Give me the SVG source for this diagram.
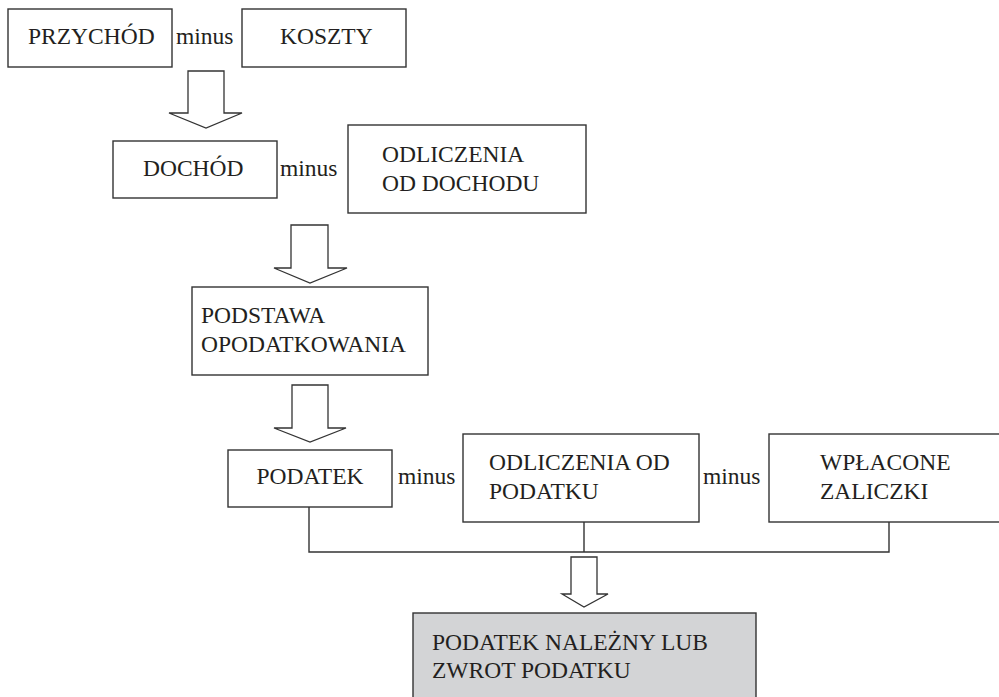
<svg xmlns="http://www.w3.org/2000/svg" width="999" height="697" viewBox="0 0 999 697">
  <style>
    .box { fill: #ffffff; stroke: #333333; stroke-width: 1.4; }
    .result { fill: #d3d4d6; stroke: #333333; stroke-width: 1.4; }
    .arrow { fill: #ffffff; stroke: #333333; stroke-width: 1.3; stroke-linejoin: miter; }
    .wire { fill: none; stroke: #333333; stroke-width: 1.4; }
    .mid { text-anchor: middle; }
  </style>
  <rect width="999" height="697" fill="#ffffff"/>

  <g font-family="Liberation Serif, Times New Roman, DejaVu Serif, serif" font-size="23.5" fill="#231f20">
    <!-- row 1 -->
    <g id="przychod">
      <rect class="box" x="8" y="9" width="164" height="58"/>
      <text x="28" y="44">PRZYCHÓD</text>
    </g>
    <text x="176" y="44">minus</text>
    <g id="koszty">
      <rect class="box" x="242" y="9" width="164" height="58"/>
      <text x="280" y="44">KOSZTY</text>
    </g>

    <!-- row 2 -->
    <g id="dochod">
      <rect class="box" x="113" y="141" width="164" height="57"/>
      <text x="143" y="176">DOCHÓD</text>
    </g>
    <text x="280" y="176">minus</text>
    <g id="odliczenia-od-dochodu">
      <rect class="box" x="348" y="125" width="238" height="88"/>
      <text x="382" y="162">ODLICZENIA</text>
      <text x="382" y="191">OD DOCHODU</text>
    </g>

    <!-- row 3 -->
    <g id="podstawa">
      <rect class="box" x="192" y="287" width="236" height="88"/>
      <text x="201" y="323">PODSTAWA</text>
      <text x="201" y="352">OPODATKOWANIA</text>
    </g>

    <!-- row 4 -->
    <g id="podatek">
      <rect class="box" x="228" y="450" width="164" height="57"/>
      <text class="mid" x="310" y="484">PODATEK</text>
    </g>
    <text x="398" y="484">minus</text>
    <g id="odliczenia-od-podatku">
      <rect class="box" x="463" y="434" width="236" height="88"/>
      <text x="489" y="470">ODLICZENIA OD</text>
      <text x="489" y="499">PODATKU</text>
    </g>
    <text x="703" y="484">minus</text>
    <g id="wplacone-zaliczki">
      <rect class="box" x="769" y="434" width="240" height="88"/>
      <text x="820" y="470">WPŁACONE</text>
      <text x="820" y="499">ZALICZKI</text>
    </g>

    <!-- result -->
    <g id="wynik">
      <rect class="result" x="413" y="613" width="343" height="100"/>
      <text x="432" y="650">PODATEK NALEŻNY LUB</text>
      <text x="432" y="678">ZWROT PODATKU</text>
    </g>
  </g>

  <!-- connectors -->
  <g id="connectors">
    <polygon class="arrow" points="188,71 224,71 224,113 242,113 206,128 169,113 188,113"/>
    <polygon class="arrow" points="291,225 328,225 328,268 347,268 310,283 274,268 291,268"/>
    <polygon class="arrow" points="292,385 328,385 328,428 346,428 310,442 274,428 292,428"/>
    <path class="wire" d="M309,507 V552 H889 V522 M584,522 V552"/>
    <polygon class="arrow" points="571,557 597,557 597,594 608,594 584,607 562,594 571,594"/>
  </g>
</svg>
